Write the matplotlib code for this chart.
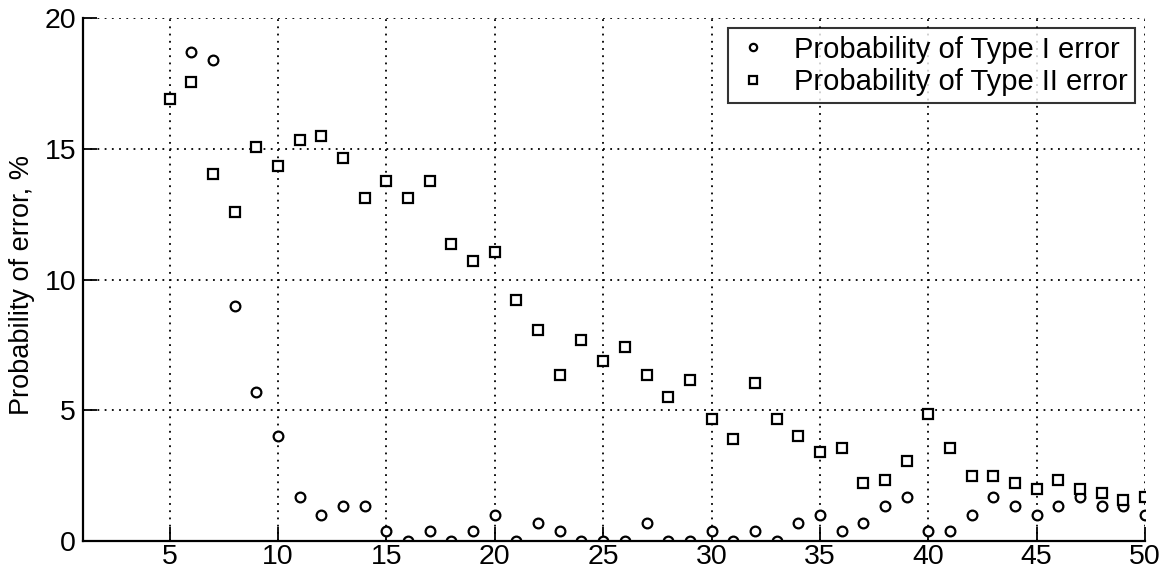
import matplotlib.pyplot as plt
import numpy as np

plt.rcParams['font.family'] = ['Liberation Sans', 'DejaVu Sans']

# Datos
x_tipo1 = list(range(6, 51))
p_tipo1 = [18.7, 18.4, 9.0, 5.7, 4.0, 1.67, 1.0, 1.33, 1.33, 0.38,
           0.0, 0.38, 0.0, 0.38, 1.0, 0.0, 0.68, 0.38, 0.0, 0.0,
           0.0, 0.68, 0.0, 0.0, 0.38, 0.0, 0.38, 0.0, 0.68, 1.0,
           0.38, 0.68, 1.33, 1.67, 0.38, 0.38, 1.0, 1.67, 1.33, 1.0,
           1.33, 1.67, 1.33, 1.33, 1.0]

x_tipo2 = list(range(5, 51))
p_tipo2 = [16.9, 17.55, 14.05, 12.6, 15.05, 14.35, 15.35, 15.5, 14.65, 13.1,
           13.75, 13.1, 13.75, 11.35, 10.7, 11.05, 9.2, 8.05, 6.35, 7.7,
           6.9, 7.4, 6.35, 5.5, 6.15, 4.65, 3.9, 6.05, 4.65, 4.0,
           3.4, 3.55, 2.2, 2.35, 3.05, 4.85, 3.55, 2.5, 2.5, 2.2,
           2.0, 2.35, 2.0, 1.85, 1.55, 1.67]

fig = plt.figure(figsize=(11.64, 5.71), dpi=100)
ax = fig.add_axes([83/1164, 30/571, (1145-83)/1164, (541-18)/571])

ax.plot(x_tipo1, p_tipo1, 'o', ms=7, mfc='white', mec='black', mew=1.6,
        label='Probability of Type I error')
ax.plot(x_tipo2, p_tipo2, 's', ms=7, mfc='white', mec='black', mew=1.6,
        label='Probability of Type II error')

ax.set_xlim(1, 50)
ax.set_ylim(0, 20)
ax.set_xticks(range(5, 51, 5))
ax.set_yticks(range(0, 21, 5))
ax.tick_params(direction='in', length=10, width=1.3, labelsize=20.5)
ax.tick_params(axis='x', pad=2)
ax.tick_params(axis='y', pad=5)
ax.grid(True, linestyle=(0, (1, 3)), color='black', linewidth=1.3)
ax.spines['top'].set_visible(False)
ax.spines['right'].set_visible(False)
for s in ['left', 'bottom']:
    ax.spines[s].set_linewidth(1.6)
ax.set_ylabel('Probability of error, %', fontsize=19.5)
ax.yaxis.set_label_coords(-0.045, 0.49)

leg = ax.legend(loc='upper right', fontsize=21, markerscale=0.75,
                frameon=True, fancybox=False, edgecolor='black',
                handlelength=1.2, handletextpad=0.8, borderpad=0.25,
                labelspacing=0.15, borderaxespad=0.35)
leg.get_frame().set_linewidth(1.5)

fig.savefig('out.png', dpi=100)
